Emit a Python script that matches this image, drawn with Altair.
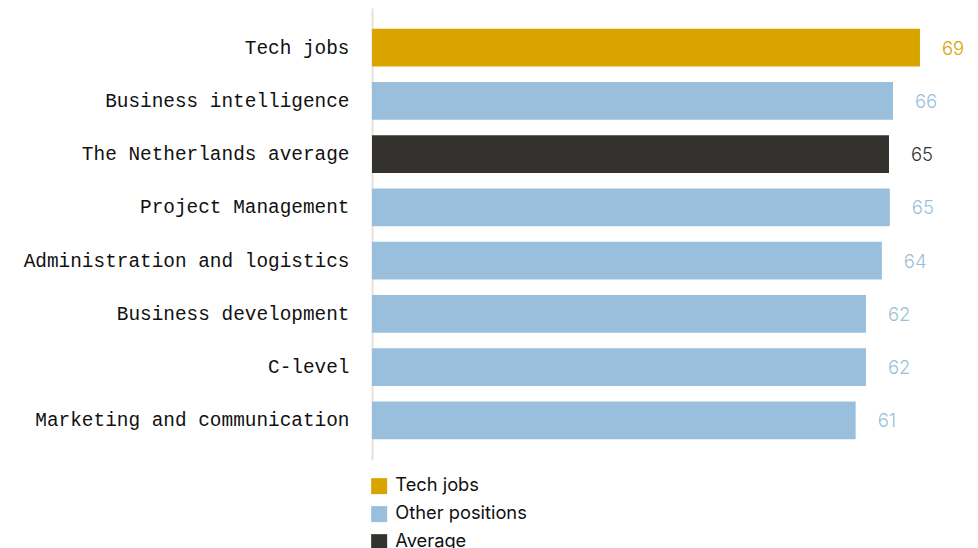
import altair as alt
import pandas as pd

categories = ["Tech jobs", "Business intelligence", "The Netherlands average",
              "Project Management", "Administration and logistics",
              "Business development", "C-level", "Marketing and communication"]
values = [69.0, 65.6, 65.1, 65.2, 64.2, 62.2, 62.2, 60.9]
labels = ["69", "66", "65", "65", "64", "62", "62", "61"]
groups = ["Tech jobs", "Other positions", "Average", "Other positions",
          "Other positions", "Other positions", "Other positions", "Other positions"]

group_order = ["Tech jobs", "Other positions", "Average"]
group_colors = ["#d9a300", "#99bfdc", "#33322e"]

df = pd.DataFrame({"category": categories, "value": values,
                   "label": labels, "group": groups})

color_scale = alt.Scale(domain=group_order, range=group_colors)

y = alt.Y("category:N", sort=categories, title=None,
          scale=alt.Scale(paddingInner=0.29, paddingOuter=0.39),
          axis=alt.Axis(labelFont="Liberation Mono", labelFontSize=19.4,
                        labelColor="#111111", ticks=False, labelPadding=23,
                        domainColor="#e6e2de", domainWidth=2, labelLimit=400,
                        minExtent=364, maxExtent=364))
x = alt.X("value:Q", title=None, scale=alt.Scale(domain=[0, 75.3], nice=False, zero=True),
          axis=None)

bars = alt.Chart(df).mark_bar().encode(
    x=x, y=y,
    color=alt.Color("group:N", scale=color_scale, title=None,
                    legend=alt.Legend(orient="none", legendX=-2, legendY=469,
                                      direction="vertical", symbolType="square",
                                      symbolSize=256, symbolStrokeWidth=0,
                                      labelFont="Inter", labelFontSize=18.3,
                                      labelOffset=7,
                                      labelColor="#111111", rowPadding=9,
                                      symbolOpacity=1))
)

text = alt.Chart(df).mark_text(align="left", baseline="middle", dx=22, dy=1,
                               font="Inter", fontSize=18.5, fontWeight=300).encode(
    x=x, y=alt.Y("category:N", sort=categories),
    text="label:N",
    color=alt.Color("group:N", scale=color_scale, legend=None)
)

chart = (bars + text).properties(width=598, height=452, padding=0).configure_view(
    strokeWidth=0)

chart.save("out.html", embed_options={"renderer": "svg", "actions": False})
